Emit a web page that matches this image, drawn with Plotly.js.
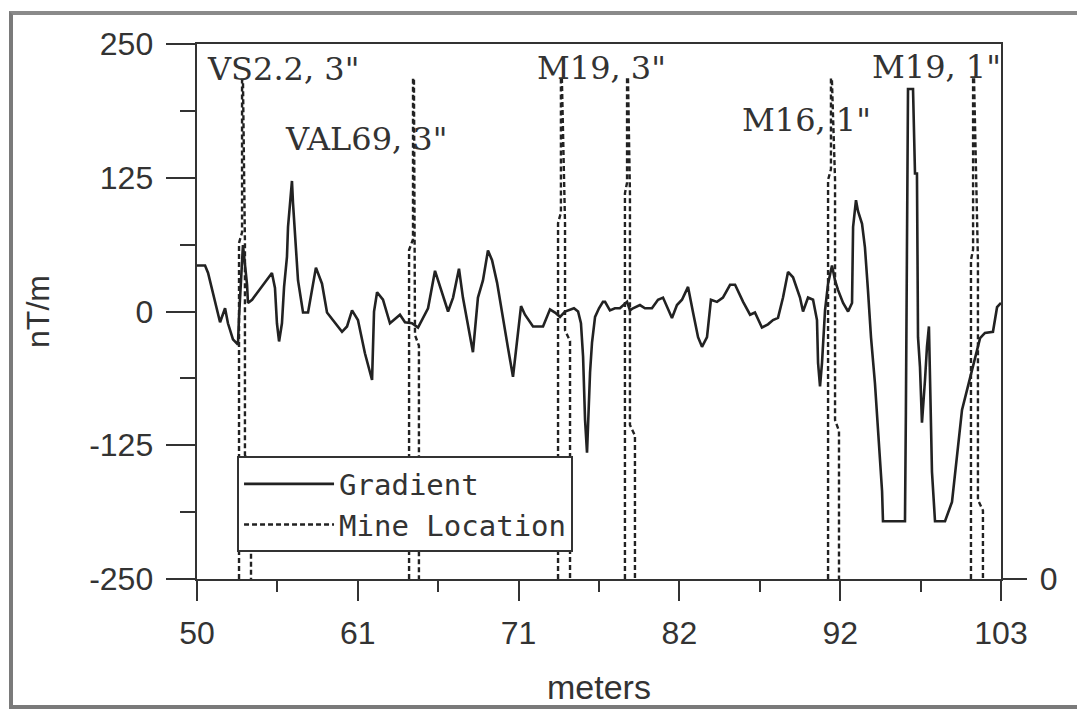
<!DOCTYPE html>
<html>
<head>
<meta charset="utf-8">
<script src="https://cdn.plot.ly/plotly-3.0.1.min.js"></script>
<style>
  html, body { margin: 0; padding: 0; background: #fff; }
  #wrap { position: relative; width: 1077px; height: 715px; overflow: hidden; }
  #chart { width: 1077px; height: 715px; }
  #frame { position: absolute; left: 9px; top: 11px; width: 1080px; height: 690px;
           border-left: 4px solid #7a7a7a; border-top: 4px solid #8a8a8a; border-bottom: 4px solid #7a7a7a;
           pointer-events: none; }
</style>
</head>
<body>
<div id="wrap">
  <div id="chart"></div>
  <div id="frame"></div>
</div>
<script>
// ---- Gradient (nT/m) along track (meters) ----
const gradX = [50.00,50.53,50.73,50.99,51.19,51.52,51.85,52.04,52.37,52.70,52.77,52.97,53.03,53.30,53.36,53.63,
  54.94,55.14,55.27,55.41,55.60,55.74,55.93,56.00,56.26,56.33,56.53,56.66,56.99,57.32,57.84,58.24,58.57,58.96,
  59.56,59.89,60.22,60.61,61.07,61.54,61.60,61.67,61.87,62.26,62.72,63.18,63.38,63.71,64.17,64.57,64.83,65.23,
  65.69,66.15,66.55,66.88,67.27,67.53,67.86,68.19,68.52,68.85,69.18,69.45,69.78,70.11,70.50,70.83,71.09,71.36,
  71.62,72.15,72.81,73.27,73.60,73.93,74.26,74.85,75.12,75.31,75.45,75.58,75.71,75.78,75.91,76.04,76.24,76.50,
  76.76,76.90,77.22,77.55,77.88,78.35,78.54,78.74,79.20,79.53,79.99,80.39,80.72,81.31,81.64,81.97,82.37,82.70,
  83.03,83.29,83.62,83.88,84.28,84.67,85.14,85.47,86.00,86.46,86.78,87.24,87.64,87.97,88.30,88.63,88.96,89.29,
  89.75,89.95,90.28,90.61,90.87,90.94,91.07,91.20,91.27,91.40,91.60,91.86,92.06,92.26,92.59,92.92,93.18,93.25,
  93.44,93.57,93.84,94.03,94.23,94.43,94.69,94.89,95.16,95.22,96.67,96.73,96.80,96.87,97.20,97.33,97.46,97.53,
  97.66,97.79,97.99,98.12,98.25,98.32,98.45,98.65,99.31,99.77,100.10,100.43,100.82,101.29,101.62,101.94,102.47,
  102.74,103.00];
const gradY = [43,43,36,20,9,-10,3,-11,-26,-31,-5,52,62,25,8,11,
  36,22,-11,-28,-11,23,51,79,122,101,57,29,-1,-1,41,26,-1,-8,
  -19,-14,1,-8,-39,-64,-42,0,18,11,-11,-5,-3,-10,-11,-15,-8,3,
  38,18,0,13,40,13,-14,-38,13,29,57,48,27,-3,-34,-61,-28,5,
  -3,-14,-14,2,-1,-5,0,3,0,-11,-42,-101,-132,-106,-57,-29,-5,3,
  9,9,1,3,3,9,1,3,6,3,3,11,13,-6,6,11,23,-1,
  -24,-33,-24,11,9,13,25,25,9,-3,-1,-15,-12,-8,-6,13,37,32,
  13,0,13,11,-8,-48,-70,-48,-26,1,26,43,29,20,8,0,8,79,
  104,94,82,60,20,-24,-67,-113,-168,-196,-196,-94,106,208,208,129,129,-24,
  -52,-104,-64,-33,-14,-57,-150,-196,-196,-178,-132,-92,-70,-45,-25,-20,-19,
  4,8];

// ---- Mine location pulses (right axis, 0 at bottom) ----
const mineLabels   = ['VS2.2, 3"', 'VAL69, 3"', 'M19, 3"', 'M16, 1"', 'M19, 1"'];
const mineLeft     = [52.77, 63.98, 73.80, 78.21, 91.60, 101.02];
const mineTopX     = [52.97, 64.24, 73.99, 78.35, 91.79, 101.16];
const mineMidRight = [53.16, 64.37, 74.26, 78.54, 92.06, 101.48];
const mineRight    = [53.56, 64.63, 74.59, 78.87, 92.32, 101.81];
const mineHeight   = [0.933, 0.936, 0.938, 0.938, 0.936, 0.938];
const mineSplit    = [0.628, 0.615, 0.665, 0.721, 0.746, 0.596];
const mineKink     = [0.232, 0.456, 0.465, 0.288, 0.297, 0.148];

// ---- Axis ticks ----
const xTickVals  = [50, 60.6, 71.2, 81.8, 92.4, 103];
const xTickText  = ['50', '61', '71', '82', '92', '103'];
const xMinorVals = [55.3, 65.9, 76.5, 87.1, 97.7];
const yTickVals  = [-250, -125, 0, 125, 250];
const yTickText  = ['-250', '-125', '0', '125', '250'];
const yMinorVals = [-187.5, -62.5, 62.5, 187.5];

// build pulse polyline with gaps
const mx = [], my = [];
for (let i = 0; i < mineLeft.length; i++) {
  mx.push(mineLeft[i], mineLeft[i], mineTopX[i], mineTopX[i], mineTopX[i] + 0.06, mineMidRight[i], mineMidRight[i], mineRight[i], mineRight[i], null);
  my.push(0, mineSplit[i], mineSplit[i] + 0.02, mineHeight[i], mineHeight[i], mineSplit[i], mineKink[i], mineKink[i] - 0.02, 0, null);
}

const ink = '#222222';
const traces = [
  { x: gradX, y: gradY, type: 'scatter', mode: 'lines', name: 'Gradient',
    line: { color: ink, width: 2.6 }, xaxis: 'x', yaxis: 'y' },
  { x: mx, y: my, type: 'scatter', mode: 'lines', name: 'Mine Location',
    line: { color: ink, width: 2.4, dash: '5px,3px' }, connectgaps: false, xaxis: 'x', yaxis: 'y2' }
];

// label positions (left edge in meters, vertical in paper units)
const labelX = [50.53, 55.67, 72.28, 85.80, 94.37];
const labelY = [0.953, 0.822, 0.955, 0.858, 0.957];
const annotations = mineLabels.map((t, i) => ({
  text: t, x: labelX[i], y: labelY[i], xref: 'x', yref: 'paper',
  xanchor: 'left', yanchor: 'middle', showarrow: false,
  font: { family: 'DejaVu Serif', size: 32, color: '#333' }
}));

const tickFont = { family: 'Liberation Sans', size: 32, color: '#333' };
const layout = {
  width: 1077, height: 715,
  margin: { l: 197, r: 76, t: 44, b: 136 },
  paper_bgcolor: '#ffffff', plot_bgcolor: '#ffffff',
  showlegend: true,
  legend: {
    x: 0.0498, y: 0.229, xanchor: 'left', yanchor: 'top',
    bgcolor: '#ffffff', bordercolor: '#333', borderwidth: 2,
    font: { family: 'DejaVu Sans Mono', size: 29, color: '#333' },
    itemwidth: 90, tracegroupgap: 0
  },
  xaxis: {
    range: [50, 103], tickmode: 'array', tickvals: xTickVals, ticktext: xTickText,
    ticks: 'outside', ticklen: 20, tickwidth: 2, tickcolor: '#333',
    showline: true, linewidth: 2.4, linecolor: '#333', mirror: true,
    showgrid: false, zeroline: false, tickfont: tickFont, ticklabelstandoff: 4,
    minor: { tickmode: 'array', tickvals: xMinorVals, ticks: 'outside', ticklen: 11, tickwidth: 2, tickcolor: '#333', showgrid: false },
    title: { text: 'meters', font: { family: 'Liberation Sans', size: 34, color: '#333' }, standoff: 26 }
  },
  yaxis: {
    range: [-250, 250], tickmode: 'array', tickvals: yTickVals, ticktext: yTickText,
    ticks: 'outside', ticklen: 29, tickwidth: 2, tickcolor: '#333',
    showline: true, linewidth: 2.4, linecolor: '#333',
    showgrid: false, zeroline: false, tickfont: tickFont, ticklabelstandoff: 6,
    minor: { tickmode: 'array', tickvals: yMinorVals, ticks: 'outside', ticklen: 15, tickwidth: 2, tickcolor: '#333', showgrid: false },
    title: { text: 'nT/m', font: { family: 'Liberation Sans', size: 32, color: '#333' }, standoff: 30 }
  },
  yaxis2: {
    overlaying: 'y', side: 'right', range: [0, 1],
    tickmode: 'array', tickvals: [0], ticktext: ['0'],
    ticks: 'outside', ticklen: 24, tickwidth: 2, tickcolor: '#333',
    showline: true, linewidth: 2.4, linecolor: '#333',
    showgrid: false, zeroline: false, tickfont: tickFont, ticklabelstandoff: 6
  },
  annotations: annotations
};

Plotly.newPlot('chart', traces, layout, { staticPlot: true, displayModeBar: false });
</script>
</body>
</html>
